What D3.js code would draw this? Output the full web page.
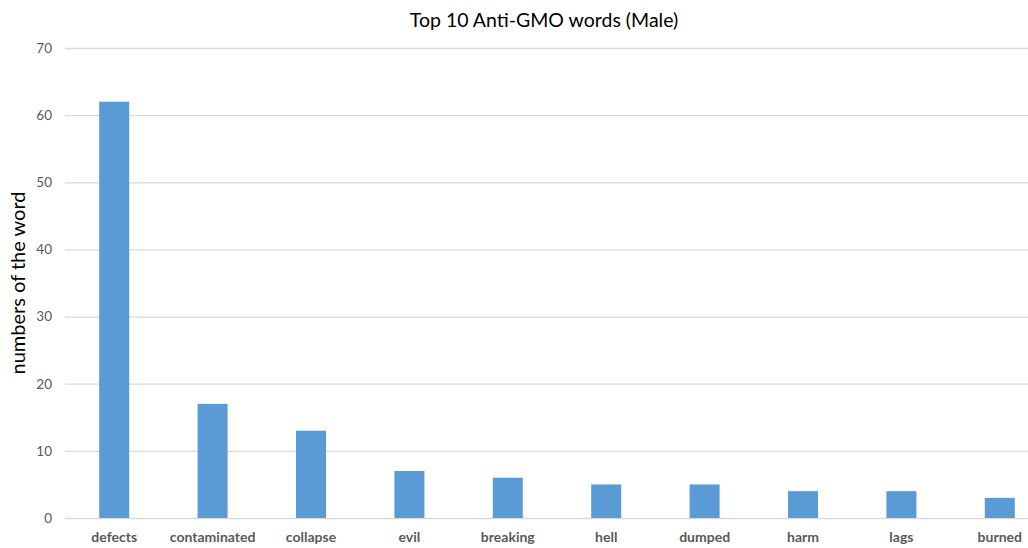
<!DOCTYPE html>
<html>
<head>
<meta charset="utf-8">
<script src="https://cdn.jsdelivr.net/npm/d3@7"></script>
<style>
  html, body { margin: 0; padding: 0; background: #fff; }
  svg { display: block; font-family: Lato, "Open Sans", sans-serif; }
</style>
</head>
<body>
<svg id="chart" width="1028" height="548"></svg>
<script>
// Word counts
const words = ["defects", "contaminated", "collapse", "evil", "breaking", "hell", "dumped", "harm", "lags", "burned"];
const counts = [62, 17, 13, 7, 6, 5, 5, 4, 4, 3];
const yTicks = [0, 10, 20, 30, 40, 50, 60, 70];
const chartTitle = "Top 10 Anti-GMO words (Male)";
const yTitle = "numbers of the word";

(function () {
  const svg = d3.select("#chart");
  const font = "Lato, 'Open Sans', sans-serif";
  const plotLeft = 65, plotTop = 48, plotBottom = 518, step = 98.4;

  const x = d3.scaleBand()
    .domain(words)
    .range([plotLeft, plotLeft + step * words.length])
    .paddingInner(0.695)
    .paddingOuter(0.3475);

  const y = d3.scaleLinear().domain([0, 70]).range([plotBottom, plotTop]);

  // Gridlines and value ticks
  const yAxis = d3.axisLeft(y).tickValues(yTicks).tickSize(-(1028 - plotLeft)).tickPadding(13);
  const gy = svg.append("g").attr("transform", `translate(${plotLeft},0)`).call(yAxis)
    .attr("font-family", font);
  gy.select(".domain").remove();
  gy.selectAll(".tick line").attr("stroke", "#d9d9d9").attr("stroke-width", 1.3);
  gy.selectAll(".tick text").attr("fill", "#595959").attr("font-size", 13.5);

  // Bars
  svg.append("g").selectAll("rect")
    .data(words)
    .join("rect")
    .attr("x", d => x(d))
    .attr("width", x.bandwidth())
    .attr("y", (d, i) => y(counts[i]))
    .attr("height", (d, i) => y(0) - y(counts[i]))
    .attr("fill", "#5b9bd5");

  // Category labels
  const xAxis = d3.axisBottom(x).tickSize(0).tickPadding(14);
  const gx = svg.append("g").attr("transform", `translate(0,${plotBottom})`).call(xAxis)
    .attr("font-family", font);
  gx.select(".domain").remove();
  gx.selectAll(".tick text").attr("fill", "#595959").attr("font-size", 14).attr("font-weight", "bold");

  // Title
  svg.append("text")
    .attr("x", 544).attr("y", 27)
    .attr("text-anchor", "middle")
    .attr("font-size", 19.5)
    .attr("fill", "#000")
    .text(chartTitle);

  // Y axis title
  svg.append("text")
    .attr("transform", "translate(25,283) rotate(-90)")
    .attr("text-anchor", "middle")
    .attr("font-size", 20)
    .attr("fill", "#000")
    .text(yTitle);
})();
</script>
</body>
</html>
